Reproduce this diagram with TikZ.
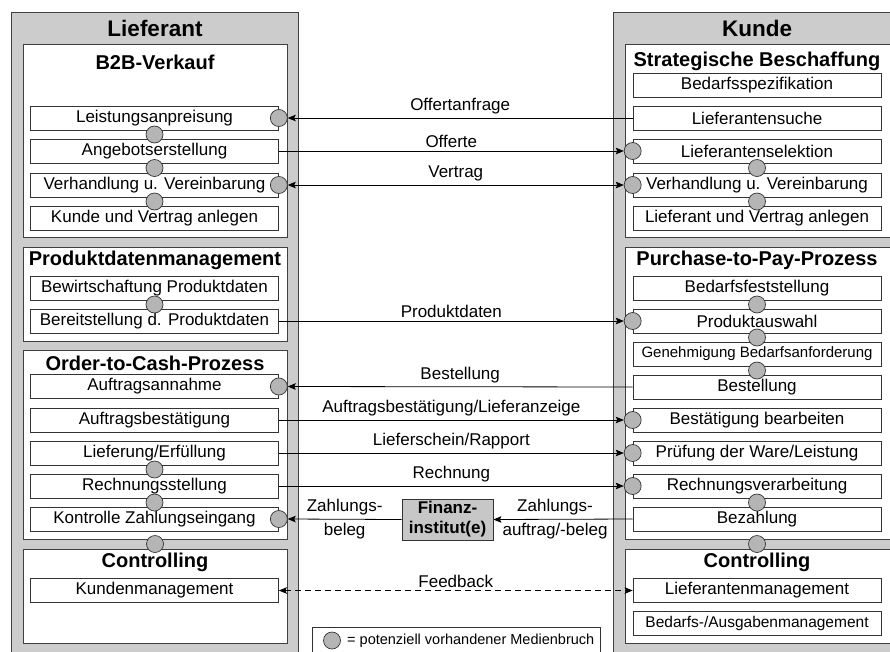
\documentclass[tikz,border=0pt]{standalone}
\usepackage{fontspec}
\setmainfont{Liberation Sans}
\usetikzlibrary{arrows.meta,calc}

\definecolor{lanegray}{gray}{0.8}
\definecolor{mbgray}{gray}{0.71}
\definecolor{fingray}{gray}{0.78}

\tikzset{
  lane/.style={draw=black!75, line width=0.8pt, fill=lanegray},
  panel/.style={draw=black!75, line width=0.8pt, fill=white},
  head/.style={font=\bfseries\fontsize{22.5}{26}\selectfont, inner sep=0pt},
  ptitle/.style={font=\bfseries\fontsize{20}{24}\selectfont, inner sep=0pt},
  task/.style={draw=black!80, line width=0.7pt, fill=white, minimum width=248pt,
    minimum height=24pt, inner sep=0pt, font=\fontsize{17}{20}\selectfont},
  mbruch/.style={circle, draw=black!80, line width=0.7pt, fill=mbgray,
    minimum size=17pt, inner sep=0pt},
  lbl/.style={font=\fontsize{17}{20}\selectfont},
  flow/.style={line width=0.8pt, -{Stealth[length=8pt,width=6.5pt,inset=1.5pt]}},
  both/.style={line width=0.8pt, {Stealth[length=8pt,width=6.5pt,inset=1.5pt]}-{Stealth[length=8pt,width=6.5pt,inset=1.5pt]}},
  fin/.style={draw=black!80, line width=0.8pt, fill=fingray, minimum width=91pt,
    minimum height=41pt, inner sep=0pt, align=center,
    font=\bfseries\fontsize{17}{20}\selectfont},
}

\begin{document}
\begin{tikzpicture}[x=1pt, y=-1pt]
  \clip (0,0) rectangle (890,651);
  \fill[white] (0,0) rectangle (890,651);

  % Lieferant
  \draw[lane] (11,12) rectangle (298,662);
  \node[head] (lief) at (155,28) {Lieferant};

  \draw[panel] (23,44) rectangle (287,237);
  \node[ptitle] (b2b) at (155,62) {B2B-Verkauf};
  \node[task] (v1) at (154.5,118) {Leistungsanpreisung};
  \node[task] (v2) at (154.5,151) {Angebotserstellung};
  \node[task] (v3) at (154.5,185) {Verhandlung u. Vereinbarung};
  \node[task] (v4) at (154.5,218) {Kunde und Vertrag anlegen};

  \draw[panel] (23,247) rectangle (287,341);
  \node[ptitle] (pdm) at (155,260) {Produktdatenmanagement};
  \node[task] (p1) at (154.5,288) {Bewirtschaftung Produktdaten};
  \node[task] (p2) at (154.5,321) {Bereitstellung d. Produktdaten};

  \draw[panel] (23,350) rectangle (287,539);
  \node[ptitle] (otc) at (155,363) {Order-to-Cash-Prozess};
  \node[task] (o1) at (154.5,386.5) {Auftragsannahme};
  \node[task] (o2) at (154.5,420) {Auftragsbestätigung};
  \node[task] (o3) at (154.5,453) {Lieferung/Erfüllung};
  \node[task] (o4) at (154.5,486) {Rechnungsstellung};
  \node[task] (o5) at (154.5,519) {Kontrolle Zahlungseingang};

  \draw[panel] (23,549) rectangle (287,643);
  \node[ptitle] (lctl) at (155,562) {Controlling};
  \node[task] (k1) at (154.5,590.5) {Kundenmanagement};

  % Kunde
  \draw[lane] (613,12) rectangle (902,662);
  \node[head] (kunde) at (757,28) {Kunde};

  \draw[panel] (625,44) rectangle (896,237);
  \node[ptitle] (sb) at (757,61) {Strategische Beschaffung};
  \node[task] (s1) at (757,85) {Bedarfsspezifikation};
  \node[task] (s2) at (757,118) {Lieferantensuche};
  \node[task] (s3) at (757,151) {Lieferantenselektion};
  \node[task] (s4) at (757,185) {Verhandlung u. Vereinbarung};
  \node[task] (s5) at (757,218) {Lieferant und Vertrag anlegen};

  \draw[panel] (625,247) rectangle (896,539);
  \node[ptitle] (p2p) at (757,260) {Purchase-to-Pay-Prozess};
  \node[task] (b1) at (757,288) {Bedarfsfeststellung};
  \node[task] (b2) at (757,321) {Produktauswahl};
  \node[task, font=\fontsize{15}{18}\selectfont] (b3) at (757,354) {Genehmigung Bedarfsanforderung};
  \node[task] (b4) at (757,387) {Bestellung};
  \node[task] (b5) at (757,420) {Bestätigung bearbeiten};
  \node[task] (b6) at (757,453) {Prüfung der Ware/Leistung};
  \node[task] (b7) at (757,486) {Rechnungsverarbeitung};
  \node[task] (b8) at (757,519) {Bezahlung};

  \draw[panel] (625,549) rectangle (896,643);
  \node[ptitle] (kctl) at (757,562) {Controlling};
  \node[task] (c1) at (757,590.5) {Lieferantenmanagement};
  \node[task, font=\fontsize{15.5}{18}\selectfont] (c2) at (757,623) {Bedarfs-/Ausgabenmanagement};

  % Medienbrueche
  \foreach \a/\b in {v1/v2, v2/v3, v3/v4, p1/p2, o3/o4, o4/o5,
                     s3/s4, s4/s5, b1/b2, b2/b3, b3/b4, b7/b8}
    \node[mbruch] at ($(\a.south)!.5!(\b.north)$) {};
  \node[mbruch] (mlc) at (155,544) {};
  \node[mbruch] (mkc) at (757,544) {};

  \node[mbruch] (mv1) at (v1.east) {};
  \node[mbruch] (mv3) at (v3.east) {};
  \node[mbruch] (mo1) at (o1.east) {};
  \node[mbruch] (mo5) at (o5.east) {};
  \node[mbruch] (ms3) at (s3.west) {};
  \node[mbruch] (ms4) at (s4.west) {};
  \node[mbruch] (mb2) at (b2.west) {};
  \node[mbruch] (mb5) at (b5.west) {};
  \node[mbruch] (mb6) at (b6.west) {};
  \node[mbruch] (mb7) at (b7.west) {};

  % Fluesse
  \draw[flow] (s2.west) -- (mv1.east) node[midway, above, lbl] {Offertanfrage};
  \draw[flow] (v2.east) -- (ms3.west) node[midway, above, lbl] {Offerte};
  \draw[both] (mv3.east) -- (ms4.west) node[midway, above, lbl] {Vertrag};
  \draw[flow] (p2.east) -- (mb2.west) node[midway, above, lbl] {Produktdaten};
  \draw[flow] (b4.west) -- (mo1.east) node[midway, above, lbl] {Bestellung};
  \draw[flow] (o2.east) -- (mb5.west) node[midway, above, lbl] {Auftragsbestätigung/Lieferanzeige};
  \draw[flow] (o3.east) -- (mb6.west) node[midway, above, lbl] {Lieferschein/Rapport};
  \draw[flow] (o4.east) -- (mb7.west) node[midway, above, lbl] {Rechnung};

  \node[fin] (bank) at (447.5,519.5) {Finanz-\\institut(e)};
  \draw[flow] (bank.west) -- (mo5.east)
    node[midway, above, lbl, inner sep=4pt] {Zahlungs-}
    node[midway, below, lbl, inner sep=4pt] {beleg};
  \draw[flow] (b8.west) -- (bank.east)
    node[midway, above, lbl, inner sep=4pt, xshift=-8pt] {Zahlungs-}
    node[midway, below, lbl, inner sep=4pt, xshift=-8pt] {auftrag/-beleg};

  \draw[both, dashed, dash pattern=on 6pt off 4pt] (k1.east) -- (c1.west)
    node[midway, above, lbl, inner sep=2pt] {Feedback};

  % Legende
  \draw[draw=black!80, line width=0.7pt, fill=white] (312,627) rectangle (600,662);
  \node[mbruch] (leg) at (332,640.5) {};
  \node[anchor=west, font=\fontsize{14.5}{17}\selectfont, inner sep=0pt] (legtxt)
    at (347,640.5) {= potenziell vorhandener Medienbruch};
\end{tikzpicture}
\end{document}
